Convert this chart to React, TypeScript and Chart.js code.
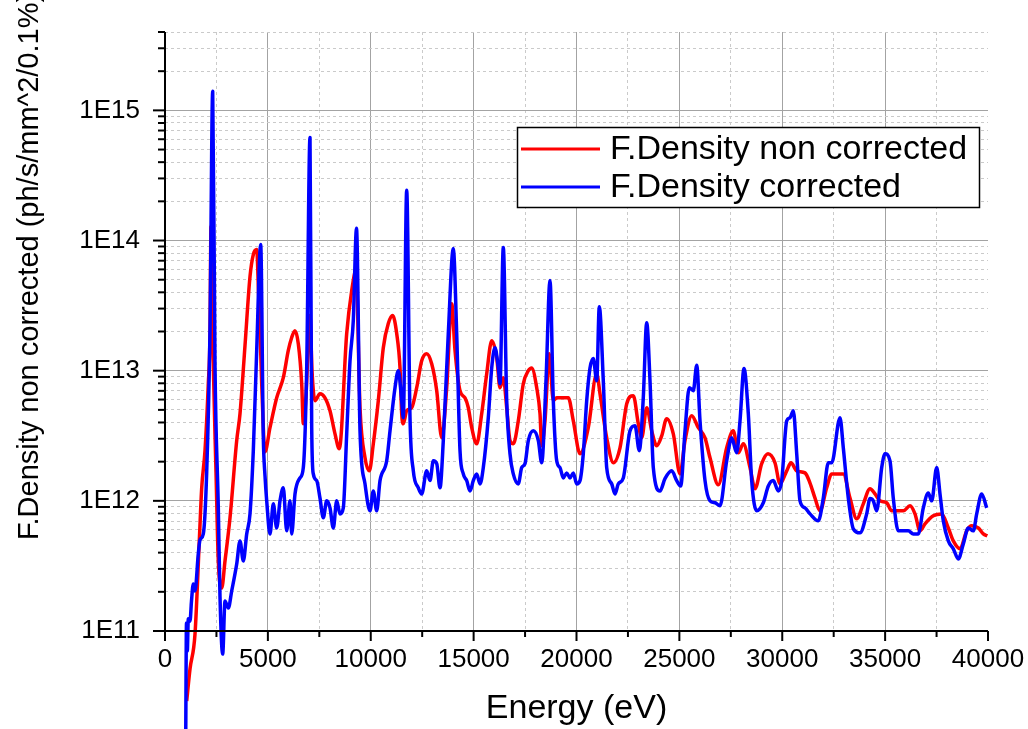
import React, { useEffect, useRef } from "react";
import { Chart, registerables } from "chart.js";

Chart.register(...registerables);

const FONT = '"Liberation Sans", Arial, Helvetica, sans-serif';

const seriesLabels = ["F.Density non corrected", "F.Density corrected"];
const seriesColors = ["#ff0000", "#0000ff"];
const xAxisTitle = "Energy (eV)";
const yAxisTitle = "F.Density non corrected (ph/s/mm^2/0.1%)";

// x ticks (eV)
const xTickValues = [0, 2500, 5000, 7500, 10000, 12500, 15000, 17500, 20000, 22500, 25000, 27500, 30000, 32500, 35000, 37500, 40000];
// y ticks: decades x mantissas
const yDecades = [1e11, 1e12, 1e13, 1e14, 1e15];
const yMantissas = [1, 2, 3, 4, 5, 6, 7, 8, 9];
const yMin = 1e11;
const yMax = 4e15;

// Red: F.Density non corrected
const energyRed = [
  1055, 1215, 1458, 1667, 1784, 1944, 2104, 2187, 2236, 2348, 2479, 2591, 2756, 2916, 3159, 3485, 3645, 3888, 4131, 4292,
  4457, 4544, 4617, 4700, 4860, 5103, 5429, 5750, 5993, 6158, 6318, 6479, 6644, 6722, 6853, 7047, 7145, 7290, 7533, 7776,
  8019, 8263, 8471, 8831, 9074, 9283, 9478, 9721, 9930, 10124, 10367, 10610, 10853, 11067, 11261, 11422, 11504, 11582, 11747, 11990,
  12233, 12476, 12719, 12962, 13206, 13449, 13692, 13935, 14095, 14338, 14581, 14742, 14907, 15149, 15392, 15636, 15879, 16122, 16282, 16442,
  16608, 16768, 16928, 17171, 17414, 17658, 17823, 18066, 18226, 18309, 18469, 18678, 18873, 19038, 19359, 19602, 19845, 20170, 20573, 20982,
  21142, 21468, 21792, 22116, 22441, 22761, 23004, 23169, 23412, 23655, 23898, 24141, 24384, 24705, 25031, 25274, 25599, 25920, 26246, 26489,
  26892, 27300, 27620, 27863, 28107, 28433, 28676, 29001, 29307, 29648, 29891, 30217, 30426, 30703, 31106, 31349, 31592, 31835, 32161, 32404,
  32724, 32967, 33293, 33618, 33939, 34265, 34508, 34751, 35077, 35320, 35883, 36209, 36452, 36695, 36938, 37341, 37750, 38071, 38314, 38640,
  38965, 39208, 39529, 39772, 39967,
];
const fluxRed = [
  2.9e10, 5.11e10, 9.48e10, 4.92e11, 1.26e12, 2.43e12, 7.94e12, 1.93e13, 1.28e14, 1.09e13, 1.67e12, 3.45e11, 2.14e11, 3.45e11, 7.4e11, 2.9e12, 4.67e12, 1.56e13, 5.28e13, 7.8e13,
  8.53e13, 4.12e13, 2.07e13, 7.94e12, 2.38e12, 3.65e12, 6.19e12, 8.83e12, 1.43e13, 1.8e13, 2.03e13, 1.61e13, 7.94e12, 3.91e12, 6.43e12, 2.65e13, 1.0e13, 5.88e12, 6.65e12, 6.19e12,
  4.92e12, 3.27e12, 2.51e12, 1.93e13, 4.12e13, 5.88e13, 5.19e12, 2.14e12, 1.7e12, 2.74e12, 5.88e12, 1.5e13, 2.3e13, 2.65e13, 1.93e13, 1.05e13, 4.67e12, 3.91e12, 4.92e12, 5.19e12,
  7.4e12, 1.19e13, 1.35e13, 1.13e13, 7.02e12, 3.05e12, 7.4e12, 3.27e13, 1.43e13, 7.02e12, 6.19e12, 5.19e12, 3.65e12, 2.74e12, 4.67e12, 9.48e12, 1.7e13, 1.26e13, 7.4e12, 8.83e12,
  5.19e12, 2.9e12, 2.74e12, 4.12e12, 7.94e12, 1.0e13, 1.05e13, 7.4e12, 4.67e12, 2.65e12, 4.12e12, 1.35e13, 5.88e12, 6.19e12, 6.19e12, 6.19e12, 4.12e12, 2.3e12, 3.65e12, 9.48e12,
  6.65e12, 3.05e12, 1.96e12, 2.56e12, 5.57e12, 6.43e12, 3.91e12, 3.05e12, 5.19e12, 3.45e12, 2.65e12, 3.16e12, 4.28e12, 3.27e12, 1.61e12, 2.9e12, 4.51e12, 3.65e12, 3.05e12, 2.14e12,
  1.33e12, 2.56e12, 3.45e12, 2.34e12, 2.74e12, 1.8e12, 1.24e12, 1.93e12, 2.3e12, 1.96e12, 1.35e12, 1.7e12, 1.96e12, 1.7e12, 1.64e12, 1.37e12, 1.05e12, 8.38e11, 1.26e12, 1.61e12,
  1.61e12, 1.61e12, 1.05e12, 7.28e11, 9.48e11, 1.24e12, 1.13e12, 1.0e12, 9.66e11, 8.38e11, 8.38e11, 9.16e11, 7.94e11, 5.88e11, 6.65e11, 7.67e11, 7.94e11, 6.19e11, 4.92e11, 4.28e11,
  5.88e11, 6.43e11, 6.19e11, 5.57e11, 5.38e11,
];

// Blue: F.Density corrected
const energyBlue = [
  1006, 1045, 1084, 1132, 1215, 1288, 1375, 1458, 1618, 1701, 1861, 2027, 2187, 2318, 2430, 2591, 2673, 2804, 2916, 3077,
  3242, 3485, 3645, 3806, 3971, 4131, 4292, 4457, 4651, 4778, 4860, 4943, 5103, 5264, 5429, 5589, 5750, 5915, 6075, 6158,
  6318, 6561, 6722, 6887, 7047, 7130, 7208, 7373, 7533, 7694, 7859, 8019, 8180, 8345, 8506, 8666, 8831, 8992, 9152, 9307,
  9478, 9721, 9964, 10124, 10289, 10450, 10775, 10936, 11179, 11339, 11504, 11582, 11747, 11908, 12069, 12312, 12476, 12719, 12880, 13040,
  13206, 13366, 13526, 13769, 14012, 14177, 14338, 14498, 14664, 14824, 14984, 15149, 15310, 15470, 15713, 15879, 16039, 16199, 16282, 16442,
  16608, 16768, 16928, 17171, 17337, 17497, 17658, 17901, 18144, 18309, 18518, 18712, 18873, 19038, 19198, 19359, 19524, 19684, 19845, 20010,
  20170, 20330, 20496, 20656, 20816, 20982, 21108, 21302, 21468, 21711, 21871, 22032, 22275, 22600, 22843, 23052, 23246, 23412, 23572, 23733,
  24058, 24301, 24627, 24870, 25064, 25274, 25483, 25677, 25843, 26003, 26246, 26489, 26732, 26975, 27300, 27543, 27786, 27947, 28141, 28350,
  28515, 28758, 29079, 29322, 29565, 29808, 29974, 30217, 30377, 30537, 30703, 30863, 31106, 31349, 31752, 31995, 32238, 32404, 32807, 32967,
  33210, 33453, 33779, 34104, 34265, 34425, 34590, 34833, 34994, 35237, 35397, 35640, 35883, 36126, 36369, 36612, 36855, 37098, 37264, 37507,
  37667, 37828, 38071, 38314, 38557, 38800, 39043, 39286, 39451, 39694, 39937,
];
const fluxBlue = [
  1.43e10, 1.15e11, 7.0e10, 1.24e11, 1.19e11, 1.7e11, 2.3e11, 2.03e11, 3.91e11, 5.01e11, 5.57e11, 1.67e12, 2.07e13, 1.4e15, 1.09e13, 8.83e11, 1.83e11, 6.65e10, 1.7e11, 1.5e11,
  2.03e11, 3.27e11, 4.92e11, 3.45e11, 5.57e11, 7.94e11, 2.43e12, 1.43e13, 9.31e13, 3.1e12, 1.56e12, 1.0e12, 5.57e11, 9.48e11, 6.19e11, 1.0e12, 1.26e12, 5.88e11, 1.0e12, 5.57e11,
  1.13e12, 1.5e12, 1.8e12, 1.05e13, 6.19e14, 3.65e12, 1.61e12, 1.43e12, 1.05e12, 7.4e11, 1.0e12, 8.83e11, 6.19e11, 1.0e12, 7.94e11, 8.83e11, 3.27e12, 1.19e13, 2.43e13, 1.24e14,
  3.45e12, 1.35e12, 8.38e11, 1.19e12, 8.38e11, 1.43e12, 2.03e12, 3.45e12, 7.4e12, 1.0e13, 5.88e12, 4.35e12, 2.43e14, 4.35e12, 1.7e12, 1.26e12, 1.13e12, 1.7e12, 1.43e12, 2.03e12,
  1.93e12, 1.26e12, 2.9e12, 1.93e13, 8.67e13, 1.93e13, 2.43e12, 1.61e12, 1.43e12, 1.19e12, 1.43e12, 1.61e12, 1.35e12, 1.8e12, 4.35e12, 1.05e13, 1.5e13, 1.05e13, 7.94e12, 8.83e13,
  5.88e12, 2.3e12, 1.61e12, 1.35e12, 1.8e12, 1.93e12, 2.9e12, 3.45e12, 2.9e12, 1.96e12, 8.38e12, 4.92e13, 5.88e12, 2.03e12, 1.8e12, 1.5e12, 1.64e12, 1.5e12, 1.64e12, 1.35e12,
  1.43e12, 2.3e12, 5.88e12, 1.05e13, 1.24e13, 8.38e12, 3.1e13, 8.38e12, 1.8e12, 1.35e12, 1.13e12, 1.35e12, 1.5e12, 3.45e12, 3.78e12, 2.43e12, 6.19e12, 2.34e13, 8.38e12, 1.8e12,
  1.19e12, 1.48e12, 1.7e12, 1.43e12, 1.3e12, 3.45e12, 7.4e12, 7.02e12, 1.1e13, 4.12e12, 1.43e12, 1.0e12, 9.66e11, 9.16e11, 2.03e12, 3.05e12, 2.34e12, 4.12e12, 1.04e13, 4.67e12,
  1.43e12, 8.38e11, 9.66e11, 1.3e12, 1.43e12, 1.19e12, 1.43e12, 4.12e12, 4.35e12, 4.92e12, 2.3e12, 1.0e12, 8.83e11, 7.94e11, 7.02e11, 1.05e12, 1.96e12, 1.96e12, 4.35e12, 2.56e12,
  1.05e12, 6.1e11, 5.68e11, 7.94e11, 1.04e12, 1.0e12, 8.38e11, 1.8e12, 2.3e12, 2.03e12, 1.05e12, 5.88e11, 5.88e11, 5.88e11, 5.57e11, 5.57e11, 8.83e11, 1.15e12, 1.0e12, 1.8e12,
  1.13e12, 7.02e11, 4.92e11, 4.28e11, 3.58e11, 4.67e11, 6.19e11, 5.88e11, 7.94e11, 1.13e12, 8.83e11,
];

const isDecade = (v: number) => Math.abs(Math.log10(v) - Math.round(Math.log10(v))) < 1e-6;
const isMajorX = (v: number) => v % 5000 === 0;

const decorPlugin = {
  id: "decor",
  afterDraw(chart: any) {
    const { ctx, chartArea, scales } = chart;
    const xs = scales.x;
    const ys = scales.y;
    ctx.save();
    // axis lines
    ctx.strokeStyle = "#000";
    ctx.lineWidth = 2;
    ctx.beginPath();
    ctx.moveTo(chartArea.left, chartArea.top);
    ctx.lineTo(chartArea.left, chartArea.bottom);
    ctx.lineTo(chartArea.right, chartArea.bottom);
    ctx.stroke();
    // y ticks
    ys.ticks.forEach((t: any) => {
      const y = ys.getPixelForValue(t.value);
      const len = isDecade(t.value) ? 12 : 7;
      ctx.beginPath();
      ctx.moveTo(chartArea.left - len, y);
      ctx.lineTo(chartArea.left, y);
      ctx.stroke();
    });
    // x ticks
    xs.ticks.forEach((t: any) => {
      const x = xs.getPixelForValue(t.value);
      const len = isMajorX(t.value) ? 10 : 6;
      ctx.beginPath();
      ctx.moveTo(x, chartArea.bottom);
      ctx.lineTo(x, chartArea.bottom + len);
      ctx.stroke();
    });
    // x title
    ctx.fillStyle = "#000";
    ctx.font = `34px ${FONT}`;
    ctx.textAlign = "center";
    ctx.textBaseline = "middle";
    ctx.fillText(xAxisTitle, (chartArea.left + chartArea.right) / 2, 709);
    // y title
    ctx.save();
    ctx.translate(30, 540);
    ctx.rotate(-Math.PI / 2);
    ctx.font = `29px ${FONT}`;
    ctx.textAlign = "left";
    ctx.textBaseline = "middle";
    ctx.fillText(yAxisTitle, 0, 0);
    ctx.restore();
    // legend
    const bx = 517, by = 127, bw = 462, bh = 80;
    ctx.fillStyle = "#fff";
    ctx.fillRect(bx, by, bw, bh);
    ctx.strokeStyle = "#000";
    ctx.lineWidth = 1.5;
    ctx.strokeRect(bx + 0.5, by + 0.5, bw, bh);
    const rows = [149, 187];
    seriesLabels.forEach((label, i) => {
      ctx.strokeStyle = seriesColors[i];
      ctx.lineWidth = 3;
      ctx.beginPath();
      ctx.moveTo(521, rows[i]);
      ctx.lineTo(600, rows[i]);
      ctx.stroke();
      ctx.fillStyle = "#000";
      ctx.font = `34px ${FONT}`;
      ctx.textAlign = "left";
      ctx.textBaseline = "middle";
      ctx.fillText(label, 610, rows[i] + 1);
    });
    ctx.restore();
  },
};

const zeroPad = (s: any) => {
  s.paddingTop = 0;
  s.paddingBottom = 0;
  s.paddingLeft = 0;
  s.paddingRight = 0;
};

export default function App() {
  const ref = useRef<HTMLCanvasElement>(null);
  useEffect(() => {
    if (!ref.current) return;
    const yTicks: number[] = [];
    yDecades.forEach((d) => yMantissas.forEach((m) => {
      const v = d * m;
      if (v <= yMax * 1.0001) yTicks.push(v);
    }));
    const lineStyle = {
      borderWidth: 3.5,
      pointRadius: 0,
      cubicInterpolationMode: "monotone" as const,
      clip: false as any,
      borderJoinStyle: "round" as const,
    };
    const chart = new Chart(ref.current, {
      type: "line",
      data: {
        datasets: [
          {
            label: seriesLabels[0],
            data: energyRed.map((e, i) => ({ x: e, y: fluxRed[i] })),
            borderColor: seriesColors[0],
            backgroundColor: seriesColors[0],
            order: 2,
            ...lineStyle,
          },
          {
            label: seriesLabels[1],
            data: energyBlue.map((e, i) => ({ x: e, y: fluxBlue[i] })),
            borderColor: seriesColors[1],
            backgroundColor: seriesColors[1],
            order: 1,
            ...lineStyle,
          },
        ],
      },
      options: {
        responsive: false,
        animation: false,
        devicePixelRatio: 1,
        layout: { padding: { left: 0, top: 32, right: 40, bottom: 0 } },
        plugins: { legend: { display: false }, tooltip: { enabled: false }, title: { display: false } },
        scales: {
          x: {
            type: "linear",
            min: 0,
            max: 40000,
            afterFit: (s: any) => { s.height = 98; zeroPad(s); },
            afterBuildTicks: (s: any) => { s.ticks = xTickValues.map((v) => ({ value: v })); },
            ticks: {
              autoSkip: false,
              maxRotation: 0,
              padding: 13,
              color: "#000",
              font: { family: FONT, size: 26 },
              callback: (v: any) => (isMajorX(Number(v)) ? String(v) : ""),
            },
            grid: {
              drawTicks: false,
              lineWidth: 1,
              color: (c: any) => {
                const v = c.tick ? c.tick.value : 0;
                if (v === 0 || v === 40000) return "rgba(0,0,0,0)";
                return isMajorX(v) ? "#a3a3a3" : "#cacaca";
              },
            },
            border: {
              display: false,
              dash: (c: any) => (c.tick && !isMajorX(c.tick.value) ? [3, 3] : []),
            } as any,
          },
          y: {
            type: "logarithmic",
            min: yMin,
            max: yMax,
            afterFit: (s: any) => { s.width = 165; zeroPad(s); },
            afterBuildTicks: (s: any) => { s.ticks = yTicks.map((v) => ({ value: v, major: isDecade(v) })); },
            ticks: {
              autoSkip: false,
              padding: 25,
              color: "#000",
              font: { family: FONT, size: 26 },
              callback: (v: any) => (isDecade(Number(v)) ? "1E" + Math.round(Math.log10(Number(v))) : ""),
            },
            grid: {
              drawTicks: false,
              lineWidth: 1,
              color: (c: any) => {
                const v = c.tick ? c.tick.value : yMin;
                if (v <= yMin * 1.0001) return "rgba(0,0,0,0)";
                return isDecade(v) ? "#a3a3a3" : "#cacaca";
              },
            },
            border: {
              display: false,
              dash: (c: any) => (c.tick && !isDecade(c.tick.value) ? [3, 3] : []),
            } as any,
          },
        },
      } as any,
      plugins: [decorPlugin],
    });
    return () => chart.destroy();
  }, []);
  return (
    <div style={{ position: "absolute", left: 0, top: 0, width: 1028, height: 729, background: "#fff" }}>
      <canvas ref={ref} width={1028} height={729} style={{ display: "block" }} />
    </div>
  );
}
